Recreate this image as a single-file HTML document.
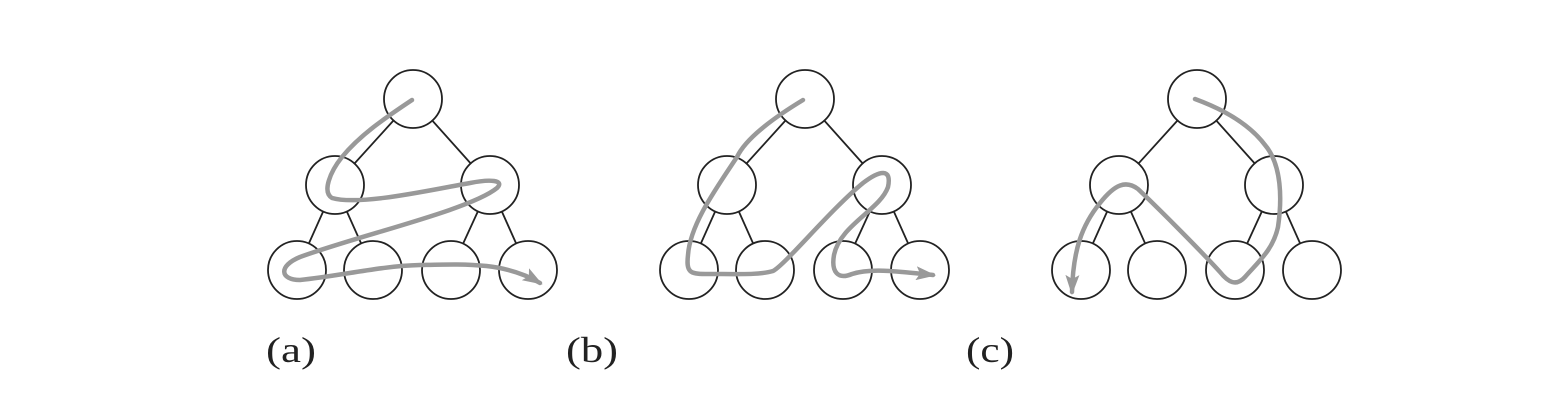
<!DOCTYPE html>
<html><head><style>
html,body{margin:0;padding:0;background:#fff;}
svg{display:block;}
</style></head><body>
<svg width="1546" height="410" viewBox="0 0 1546 410" xmlns="http://www.w3.org/2000/svg">
<defs>
<marker id="ah" markerWidth="20" markerHeight="14" refX="17" refY="7" orient="auto" markerUnits="userSpaceOnUse" viewBox="0 0 20 14">
<path d="M0,0 L20,7 L0,14 L4,7 Z" fill="#999"/>
</marker>
</defs>
<g stroke="#222" stroke-width="1.8">
<line x1="413" y1="99" x2="335" y2="185"/><line x1="413" y1="99" x2="490" y2="185"/>
<line x1="335" y1="185" x2="297" y2="270"/><line x1="335" y1="185" x2="373" y2="270"/>
<line x1="490" y1="185" x2="451" y2="270"/><line x1="490" y1="185" x2="528" y2="270"/>
<line x1="805" y1="99" x2="727" y2="185"/><line x1="805" y1="99" x2="882" y2="185"/>
<line x1="727" y1="185" x2="689" y2="270"/><line x1="727" y1="185" x2="765" y2="270"/>
<line x1="882" y1="185" x2="843" y2="270"/><line x1="882" y1="185" x2="920" y2="270"/>
<line x1="1197" y1="99" x2="1119" y2="185"/><line x1="1197" y1="99" x2="1274" y2="185"/>
<line x1="1119" y1="185" x2="1081" y2="270"/><line x1="1119" y1="185" x2="1157" y2="270"/>
<line x1="1274" y1="185" x2="1235" y2="270"/><line x1="1274" y1="185" x2="1312" y2="270"/>
</g>
<g stroke="#222" stroke-width="1.8" fill="#fff">
<circle cx="413" cy="99" r="29"/><circle cx="335" cy="185" r="29"/><circle cx="490" cy="185" r="29"/>
<circle cx="297" cy="270" r="29"/><circle cx="373" cy="270" r="29"/><circle cx="451" cy="270" r="29"/><circle cx="528" cy="270" r="29"/>
<circle cx="805" cy="99" r="29"/><circle cx="727" cy="185" r="29"/><circle cx="882" cy="185" r="29"/>
<circle cx="689" cy="270" r="29"/><circle cx="765" cy="270" r="29"/><circle cx="843" cy="270" r="29"/><circle cx="920" cy="270" r="29"/>
<circle cx="1197" cy="99" r="29"/><circle cx="1119" cy="185" r="29"/><circle cx="1274" cy="185" r="29"/>
<circle cx="1081" cy="270" r="29"/><circle cx="1157" cy="270" r="29"/><circle cx="1235" cy="270" r="29"/><circle cx="1312" cy="270" r="29"/>
</g>
<g stroke="#999" stroke-width="4.5" fill="none" stroke-linecap="round" stroke-linejoin="round">
<path marker-end="url(#ah)" d="M412,100 C385,118 360,135 342,157 C330,172 322,192 332,198 C360,206 430,190 470,183 C490,179 505,180 497,188 C470,210 360,235 300,257 C278,266 280,280 300,280 C340,276 380,266 420,265 C465,264 505,262 540,283"/>
<path marker-end="url(#ah)" d="M803,100 C770,120 745,140 737,157 C715,190 690,225 688,255 C686,272 690,274 705,274 C740,274 760,275 773,271 C785,265 830,210 863,183 C880,170 892,168 888,187 C880,210 840,225 834,255 C831,272 838,280 852,274 C870,268 895,271 933,275"/>
<path marker-end="url(#ah)" d="M1195,99 C1225,110 1250,125 1265,145 C1282,165 1282,200 1278,227 C1273,250 1258,262 1245,277 C1236,287 1228,282 1220,272 C1200,250 1160,210 1138,189 C1126,180 1115,184 1100,203 C1082,225 1073,250 1072,292"/>
</g>
<g font-family="'Liberation Serif', serif" font-size="36" fill="#222">
<text x="266" y="362" textLength="50" lengthAdjust="spacingAndGlyphs">(a)</text>
<text x="566" y="362" textLength="52" lengthAdjust="spacingAndGlyphs">(b)</text>
<text x="966" y="362" textLength="48" lengthAdjust="spacingAndGlyphs">(c)</text>
</g>
</svg>
</body></html>
